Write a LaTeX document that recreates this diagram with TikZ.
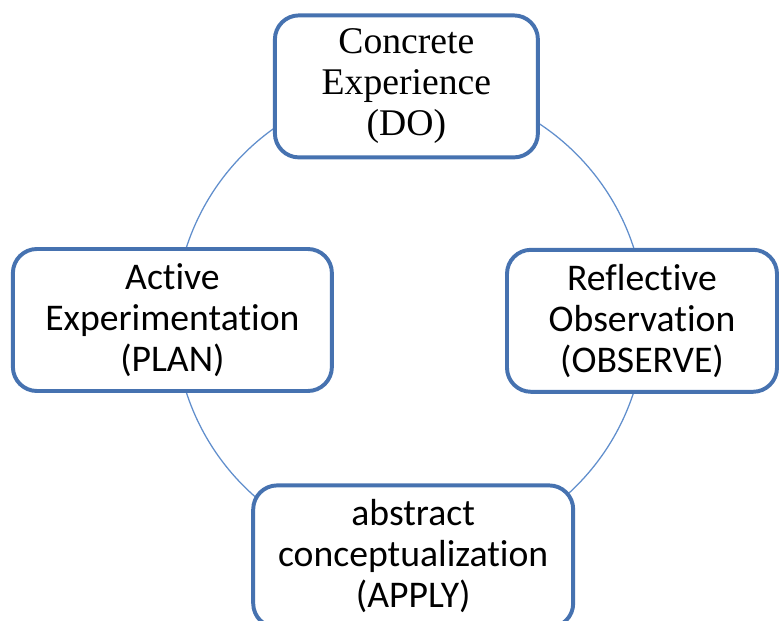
\documentclass[tikz,border=0pt]{standalone}
\usepackage{fontspec}
\setmainfont{Carlito}[Ligatures=NoCommon]
\newfontfamily\timesfont{Liberation Serif}
\usepackage{xcolor}
\usetikzlibrary{positioning}

\definecolor{boxblue}{RGB}{70,114,176}
\definecolor{ringblue}{RGB}{96,142,204}

\begin{document}
\begin{tikzpicture}[
    stage/.style={draw=boxblue,line width=2.8pt,rounded corners=0.6cm,fill=white,
      align=center,inner sep=0pt,minimum height=3.55cm},
    every node/.style={font=\fontsize{26.8}{29.2}\selectfont}]
  \useasboundingbox (-10.25,-7.525) rectangle (9.225,8.0);
  % ---- the cycle, behind the boxes ----
  \coordinate (ctr) at (0,0);
  \draw[draw=ringblue,line width=0.9pt] (ctr) circle (5.875);
  % ---- the four stages ----
  \node[stage,minimum width=6.575cm,font=\timesfont\fontsize{26.8}{29.2}\selectfont]
    (do) at (-0.09,5.84) {Concrete\\Experience\\(DO)};
  \node[stage,minimum width=6.75cm] (observe) at (5.8,-0.02) {Reflective\\Observation\\(OBSERVE)};
  \node[stage,minimum width=8.0cm] (apply) at (0.08,-5.91) {abstract\\conceptualization\\(APPLY)};
  \node[stage,minimum width=7.975cm] (plan) at (-5.94,0.0) {Active\\Experimentation\\(PLAN)};
\end{tikzpicture}
\end{document}
